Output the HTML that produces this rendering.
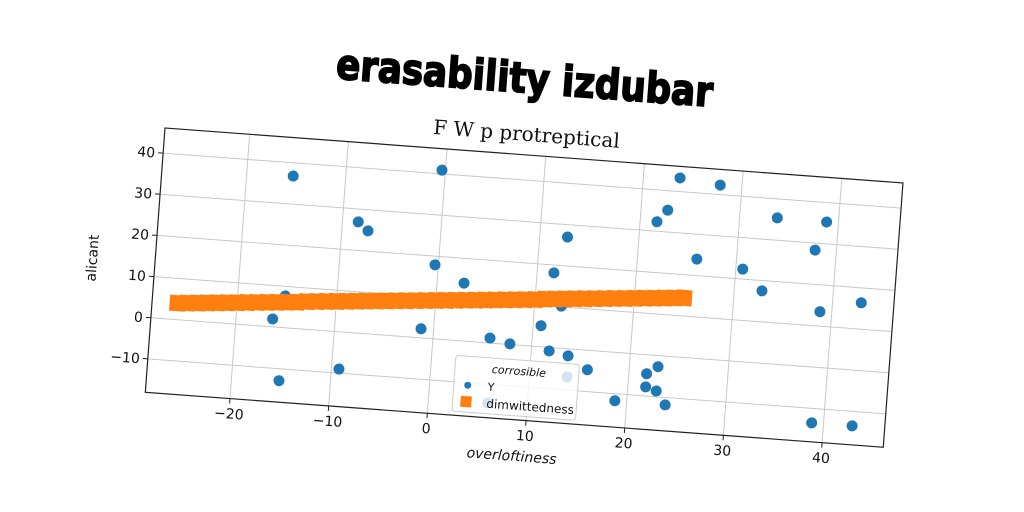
<!DOCTYPE html>
<html><head><meta charset="utf-8"><style>
html,body{margin:0;padding:0;background:#fff;}
svg{display:block;}
</style></head><body>
<svg id="chart" width="1024" height="512" xmlns="http://www.w3.org/2000/svg">
<g id="frame" transform="translate(165,128) rotate(4.26)">
  <text x="355" y="-62" text-anchor="middle" font-family="'DejaVu Sans','Liberation Sans',sans-serif" font-weight="900" font-size="38" stroke="#000" stroke-width="1.6" transform="translate(355,-62) scale(0.94,1.1) translate(-355,62)" fill="#000">erasability izdubar</text>
  <text x="361" y="-14" text-anchor="middle" font-family="'DejaVu Serif','Liberation Serif',serif" font-size="20" fill="#111">F W p protreptical</text>
  <g id="grid"></g>
  <g id="marks"></g>
  <rect x="0" y="0" width="740" height="265" fill="none" stroke="#222" stroke-width="1.2"/>
  <g id="ticks"></g>
  <text x="370" y="306" text-anchor="middle" font-family="'DejaVu Sans',sans-serif" font-style="italic" font-size="14" fill="#111">overloftiness</text>
  <text x="0" y="0" text-anchor="middle" font-family="'DejaVu Sans',sans-serif" font-size="14" fill="#111" transform="translate(-58,135) rotate(-90)">alicant</text>
  <g transform="translate(307,205)">
    <rect x="0" y="0" width="124" height="56" rx="3" fill="#fff" fill-opacity="0.8" stroke="#ccc"/>
    <text x="64" y="15" text-anchor="middle" font-family="'DejaVu Sans',sans-serif" font-style="italic" font-size="11" fill="#111">corrosible</text>
    <circle cx="14" cy="29" r="3.5" fill="#1f77b4"/>
    <text x="34" y="33" font-family="'DejaVu Sans',sans-serif" font-size="11" fill="#111">Y</text>
    <rect x="8" y="40" width="11" height="11" fill="#ff7f0e"/>
    <text x="34" y="50" font-family="'DejaVu Sans',sans-serif" font-size="12" fill="#111">dimwittedness</text>
  </g>
</g>
</svg>
<script>
const xTicks = [-20, -10, 0, 10, 20, 30, 40];
const yTicks = [-10, 0, 10, 20, 30, 40];
const yX = [-15.3,-0.35,-8.4,-7.35,-0.34,2.72,-15.2,-16.3,-1.27,-15.2,-9.24,5.75,7.8,10.8,11.8,13.75,15.8,18.8,12.8,11.7,12.7,23.7,27.8,22.7,21.7,26.0,30.7,32.8,33.8,38.8,37.85,42.9,38.8,38.8,42.9,22.9,21.8,21.8,22.9,23.9,6.0,13.8];
const yY = [36.8,40.9,26.9,24.9,17.9,14.0,7.7,1.9,2.2,-12.9,-9.0,1.2,0.15,5.1,-0.85,-1.7,-4.7,-11.7,27.0,18.1,10.2,43.3,42.3,35.3,32.3,24.0,22.4,17.5,35.4,35.3,28.3,16.4,13.5,-13.5,-13.5,-2.7,-4.6,-7.8,-8.6,-11.8,-14.5,-6.8];
const dimX = [-26,-25,-24,-23,-22,-21,-20,-19,-18,-17,-16,-15,-14,-13,-12,-11,-10,-9,-8,-7,-6,-5,-4,-3,-2,-1,0,1,2,3,4,5,6,7,8,9,10,11,12,13,14,15,16,17,18,19,20,21,22,23,24,25];
const dimY = [4.0,4.2,4.4,4.6,4.8,5.0,5.2,5.4,5.6,5.8,6.0,6.2,6.4,6.7,6.9,7.1,7.3,7.5,7.7,7.9,8.1,8.3,8.5,8.7,8.9,9.1,9.3,9.5,9.7,9.9,10.1,10.3,10.5,10.7,10.9,11.1,11.3,11.6,11.8,12.0,12.2,12.4,12.6,12.8,13.0,13.2,13.4,13.6,13.8,14.0,14.2,14.4];

const W = 740, H = 265, XMIN = -28.58, XMAX = 46.2, YMIN = -18.1, YMAX = 46.1;
const sx = v => (v - XMIN) / (XMAX - XMIN) * W;
const sy = v => H - (v - YMIN) / (YMAX - YMIN) * H;
const NS = 'http://www.w3.org/2000/svg';
function mk(tag, attrs, parent) {
  const e = document.createElementNS(NS, tag);
  for (const k in attrs) e.setAttribute(k, attrs[k]);
  parent.appendChild(e);
  return e;
}
const grid = document.getElementById('grid');
const ticks = document.getElementById('ticks');
const marks = document.getElementById('marks');
xTicks.forEach(t => {
  const g = mk('line', {x1: sx(t), x2: sx(t), y1: 0, y2: H, stroke: '#c8c8c8', 'stroke-width': 1}, grid);
  
  
  const tk = mk('line', {x1: sx(t), x2: sx(t), y1: H, y2: H + 5, stroke: '#222'}, ticks);
  
  
  const lb = mk('text', {x: sx(t), y: H + 20, 'text-anchor': 'middle', 'font-family': "'DejaVu Sans',sans-serif", 'font-size': 14, fill: '#111'}, ticks);
  lb.textContent = t < 0 ? '\u2212' + Math.abs(t) : String(t);
  
  
});
yTicks.forEach(t => {
  const g = mk('line', {x1: 0, x2: W, y1: sy(t), y2: sy(t), stroke: '#c8c8c8', 'stroke-width': 1}, grid);
  
  
  const tk = mk('line', {x1: -5, x2: 0, y1: sy(t), y2: sy(t), stroke: '#222'}, ticks);
  
  
  const lb = mk('text', {x: -8, y: sy(t) + 5, 'text-anchor': 'end', 'font-family': "'DejaVu Sans',sans-serif", 'font-size': 14, fill: '#111'}, ticks);
  lb.textContent = t < 0 ? '\u2212' + Math.abs(t) : String(t);
  
  
});
yX.forEach((x, i) => {
  const c = mk('circle', {cx: sx(x), cy: sy(yY[i]), r: 5.5, fill: '#1f77b4'}, marks);
  
  
});
dimX.forEach((x, i) => {
  const s = 16;
  const r = mk('rect', {x: sx(x) - s / 2, y: sy(dimY[i]) - s / 2, width: s, height: s, fill: '#ff7f0e'}, marks);
  
  
});
</script>
</body></html>
